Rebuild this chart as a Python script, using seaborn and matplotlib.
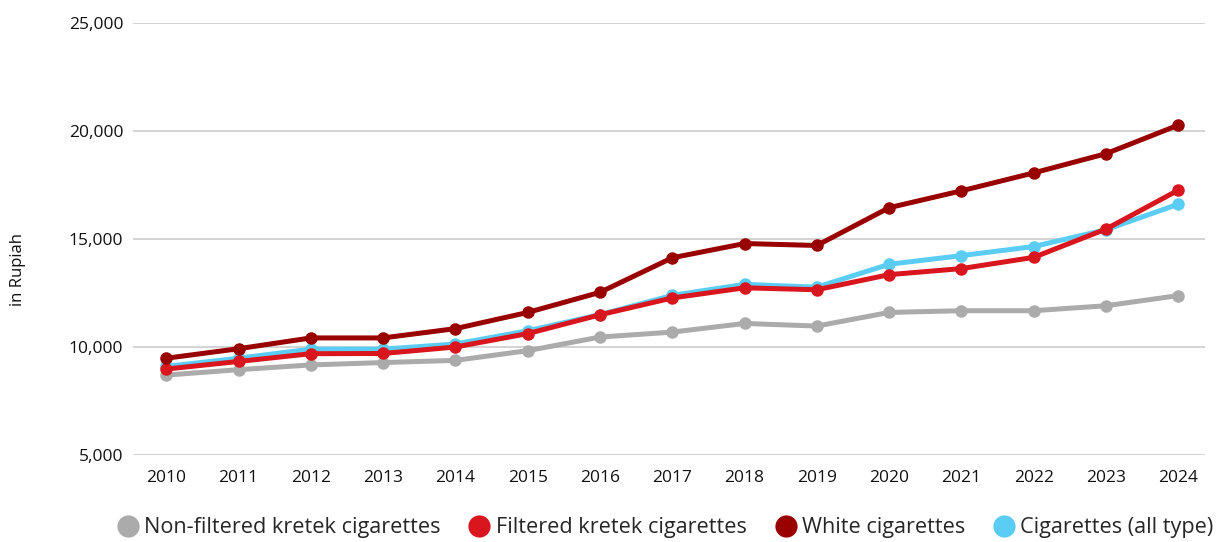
import matplotlib
matplotlib.use("Agg")
import matplotlib.pyplot as plt
from matplotlib.lines import Line2D
import seaborn as sns
import pandas as pd

years = list(range(2010, 2025))
non_filtered = [8700, 8950, 9170, 9280, 9380, 9830, 10460, 10690, 11090, 10970, 11600, 11680, 11680, 11910, 12380]
filtered = [8980, 9330, 9690, 9700, 10000, 10620, 11490, 12270, 12740, 12650, 13350, 13630, 14150, 15460, 17260]
white = [9480, 9920, 10420, 10420, 10850, 11600, 12530, 14130, 14790, 14700, 16450, 17230, 18060, 18950, 20270]
all_type = [9100, 9480, 9900, 9900, 10140, 10750, 11500, 12390, 12900, 12770, 13830, 14230, 14650, 15430, 16610]

series_names = ["Non-filtered kretek cigarettes", "Filtered kretek cigarettes",
                "White cigarettes", "Cigarettes (all type)"]
series_values = [non_filtered, filtered, white, all_type]
colors = {"Non-filtered kretek cigarettes": "#ababab",
          "Filtered kretek cigarettes": "#d9151d",
          "White cigarettes": "#990000",
          "Cigarettes (all type)": "#5bcdf5"}
yticks = [5000, 10000, 15000, 20000, 25000]

rows = []
for name, vals in zip(series_names, series_values):
    for y, v in zip(years, vals):
        rows.append({"Year": y, "Price": v, "Series": name})
df = pd.DataFrame(rows)

sns.set_theme(style="white")
plt.rcParams['font.family'] = ['Open Sans', 'DejaVu Sans']

fig = plt.figure(figsize=(12.25, 5.42), dpi=100)
ax = fig.add_axes([133/1225, 1-455/542, (1205-133)/1225, (455-23)/542])

draw_order = ["Non-filtered kretek cigarettes", "Cigarettes (all type)",
              "Filtered kretek cigarettes", "White cigarettes"]
for name in draw_order:
    sub = df[df["Series"] == name]
    sns.lineplot(data=sub, x="Year", y="Price", ax=ax, color=colors[name],
                 linewidth=3.6, marker="o", markersize=9, markeredgewidth=0,
                 legend=False, zorder=3)

ax.set_ylim(5000, 25000)
ax.set_xlim(2010 - 0.46, 2024 + 0.37)
ax.set_yticks(yticks)
ax.set_yticklabels([f"{v:,}" for v in yticks])
ax.set_xticks(years)
ax.set_xticklabels([str(y) for y in years])
ax.grid(axis="y", color="#cccccc", linewidth=1.2)
ax.grid(axis="x", visible=False)
for s in ax.spines.values():
    s.set_visible(False)
ax.tick_params(axis="both", length=0, labelsize=12.5, colors="#111111")
ax.tick_params(axis="x", pad=11)
ax.tick_params(axis="y", pad=7)
ax.set_xlabel("")
ax.set_ylabel("")
fig.text(18/1225, 1 - 270/542, "in Rupiah", rotation=90, fontsize=12,
         color="#111111", ha="center", va="center")

handles = [Line2D([0], [0], marker="o", linestyle="none", markersize=16,
                  markerfacecolor=colors[n], markeredgewidth=0) for n in series_names]
fig.legend(handles, series_names, loc="center", bbox_to_anchor=(0.543, 1 - 528/542),
           ncol=4, frameon=False, fontsize=15.6, handletextpad=0.25, columnspacing=1.3,
           handlelength=1.0)

fig.savefig("out.png", dpi=100)
